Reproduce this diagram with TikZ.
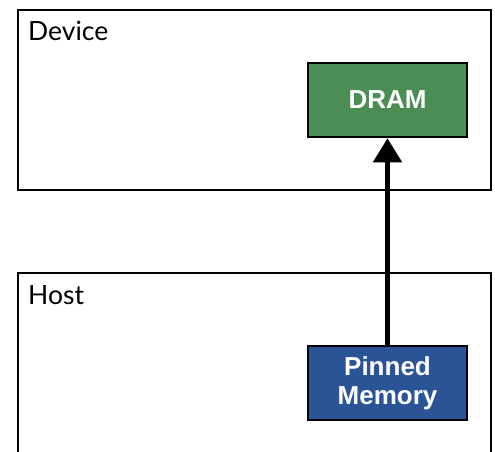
\documentclass[tikz,border=0pt]{standalone}
\usepackage{fontspec}
\setmainfont{Lato}
\newfontfamily\boxfont{Liberation Sans}
\newfontfamily\lblfont{Lato}
\usetikzlibrary{arrows.meta}
\definecolor{dramgreen}{RGB}{76,141,86}
\definecolor{pinblue}{RGB}{43,84,150}
\begin{document}
\begin{tikzpicture}[x=1pt,y=-1pt,
  frame/.style={draw=black,line width=2.5pt},
  membox/.style={draw=black,line width=2.5pt,minimum width=159pt,minimum height=74pt,inner sep=0pt,
    font=\boxfont\bfseries\fontsize{26}{29}\selectfont,text=white,align=center},
  lbl/.style={anchor=base west,inner sep=0pt,font=\lblfont\fontsize{26.5}{30}\selectfont}]
\useasboundingbox (0,0) rectangle (495,451);
\draw[frame] (18,10) rectangle (491,190);
\draw[frame] (18,456) -- (18,273) -- (491,273) -- (491,456);
\node[lbl] (dev) at (28,40) {Device};
\node[lbl] (host) at (28,304) {Host};
\node[membox,fill=dramgreen] (dram) at (387.5,100) {DRAM};
\node[membox,fill=pinblue] (pin) at (387.5,383) {Pinned\\Memory};
\draw[line width=5pt,-{Triangle[width=28pt,length=24pt]}] (pin.north) -- (dram.south);
\end{tikzpicture}
\end{document}
